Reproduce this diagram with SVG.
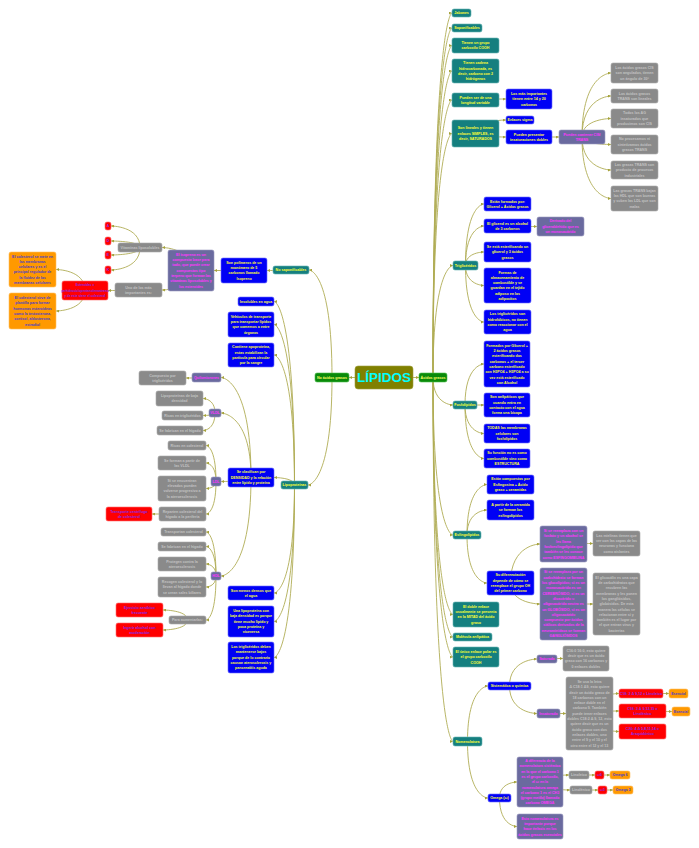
<svg xmlns="http://www.w3.org/2000/svg" width="699" height="848" viewBox="0 0 699 848">
<defs>
<marker id="ar" markerUnits="userSpaceOnUse" markerWidth="3" markerHeight="3" refX="3" refY="1.5" orient="auto"><path d="M0,0 L3,1.5 L0,3 z" fill="#a6a33c"/></marker>
<style>
rect{rx:2px;ry:2px;stroke-width:0.6}
text{font-family:"Liberation Sans",Arial,sans-serif;font-size:3.6px;font-weight:bold;text-anchor:middle}
#connectors path{fill:none;stroke:#b0ad55;stroke-width:0.9;marker-end:url(#ar)}
.root rect{fill:#808000;stroke:#a0a040;rx:3px;ry:3px}
.root text{fill:#00ffff;font-size:13.5px}
.green rect{fill:#0a8a0a;stroke:#4fbf4f}
.green text{fill:#ffff66}
.teal rect{fill:#157f7f;stroke:#66b3b3}
.teal text{fill:#ffff33}
.blue rect{fill:#0000f5;stroke:#6b6bff}
.blue text{fill:#ffff33}
.purple rect{fill:#6a6a9f;stroke:#9a9ac0}
.purple text{fill:#ff33ff}
.gray rect{fill:#8a8a8a;stroke:#a8a8a8}
.gray text{fill:#c2c2c2}
.red rect{fill:#ff0000;stroke:#ff7070}
.red text{fill:#8a2be2}
.orange rect{fill:#ff9900;stroke:#ffc060}
.orange text{fill:#4b3cc8}
</style>
</defs>
<rect x="0" y="0" width="699" height="848" fill="#ffffff" style="rx:0;ry:0"/>
<g id="connectors">
<path d="M355,377.5 L349,377.5"/>
<path d="M413,377.5 L419,377.5"/>
<path d="M433,377.5 C433,13 452,13 452,13"/>
<path d="M433,377.5 C433,28 452,28 452,28"/>
<path d="M433,377.5 C433,45.5 452,45.5 452,45.5"/>
<path d="M433,377.5 C433,71 452,71 452,71"/>
<path d="M433,377.5 C433,100 452,100 452,100"/>
<path d="M433,377.5 C433,133.5 452,133.5 452,133.5"/>
<path d="M433,377.5 C433,265.5 453,265.5 453,265.5"/>
<path d="M433,377.5 C433,405 453,405 453,405"/>
<path d="M433,377.5 C433,535 453,535 453,535"/>
<path d="M433,377.5 C433,614.5 453,614.5 453,614.5"/>
<path d="M433,377.5 C433,637 453,637 453,637"/>
<path d="M433,377.5 C433,657 453,657 453,657"/>
<path d="M433,377.5 C433,741.5 453,741.5 453,741.5"/>
<path d="M475.5,100 C475.5,99 506,99 506,99"/>
<path d="M475.5,133.5 C475.5,120 506,120 506,120"/>
<path d="M475.5,133.5 C475.5,137 506,137 506,137"/>
<path d="M529,137 L559,137"/>
<path d="M582,137 C582,73 611,73 611,73"/>
<path d="M582,137 C582,96 611,96 611,96"/>
<path d="M582,137 C582,118.5 611,118.5 611,118.5"/>
<path d="M582,137 C582,144.5 611,144.5 611,144.5"/>
<path d="M582,137 C582,170 611,170 611,170"/>
<path d="M582,137 C582,198.5 611,198.5 611,198.5"/>
<path d="M465.5,265.5 C465.5,204 484,204 484,204"/>
<path d="M465.5,265.5 C465.5,226 484,226 484,226"/>
<path d="M465.5,265.5 C465.5,252 484,252 484,252"/>
<path d="M465.5,265.5 C465.5,285.5 484,285.5 484,285.5"/>
<path d="M465.5,265.5 C465.5,322 484,322 484,322"/>
<path d="M507.5,226 C507.5,226.5 537,226.5 537,226.5"/>
<path d="M465,405 C465,364 484,364 484,364"/>
<path d="M465,405 L484,405"/>
<path d="M465,405 C465,433.5 484,433.5 484,433.5"/>
<path d="M465,405 C465,458.5 484,458.5 484,458.5"/>
<path d="M467,535 C467,484.5 487,484.5 487,484.5"/>
<path d="M467,535 C467,510 487,510 487,510"/>
<path d="M467,535 C467,583 487,583 487,583"/>
<path d="M510.5,583 C510.5,544 540,544 540,544"/>
<path d="M510.5,583 C510.5,604 540,604 540,604"/>
<path d="M563.5,544 C563.5,543.5 593,543.5 593,543.5"/>
<path d="M563.5,604 L593,604"/>
<path d="M467.5,741.5 C467.5,686 488,686 488,686"/>
<path d="M467.5,741.5 C467.5,798 488,798 488,798"/>
<path d="M509.5,686 C509.5,659 537,659 537,659"/>
<path d="M509.5,686 C509.5,713.5 537,713.5 537,713.5"/>
<path d="M547,659 C547,658.5 563,658.5 563,658.5"/>
<path d="M548.5,713.5 L566,713.5"/>
<path d="M589.5,713.5 C589.5,693.5 619,693.5 619,693.5"/>
<path d="M589.5,713.5 C589.5,711 619,711 619,711"/>
<path d="M589.5,713.5 C589.5,731.5 619,731.5 619,731.5"/>
<path d="M641,693.5 L669,693.5"/>
<path d="M642.5,711 C642.5,711.5 672,711.5 672,711.5"/>
<path d="M499.5,798 C499.5,782 517,782 517,782"/>
<path d="M499.5,798 C499.5,826.5 517,826.5 517,826.5"/>
<path d="M540,782 C540,775 569,775 569,775"/>
<path d="M540,782 C540,790 570,790 570,790"/>
<path d="M579,775 L595,775"/>
<path d="M599.5,775 L610,775"/>
<path d="M581,790 L598,790"/>
<path d="M602.5,790 L613,790"/>
<path d="M332,377.5 C332,270 309,270 309,270"/>
<path d="M332,377.5 C332,485 308,485 308,485"/>
<path d="M291,270 C291,270.5 267,270.5 267,270.5"/>
<path d="M244,270.5 L214,270.5"/>
<path d="M191,270.5 C191,247.5 162,247.5 162,247.5"/>
<path d="M191,270.5 C191,290 162,290 162,290"/>
<path d="M140,247.5 C140,226 111,226 111,226"/>
<path d="M140,247.5 C140,241 111,241 111,241"/>
<path d="M140,247.5 C140,255 111,255 111,255"/>
<path d="M140,247.5 C140,270 111,270 111,270"/>
<path d="M138.5,290 C138.5,290.5 108,290.5 108,290.5"/>
<path d="M85,290.5 C85,269.5 56,269.5 56,269.5"/>
<path d="M85,290.5 C85,311 56,311 56,311"/>
<path d="M294.5,485 C294.5,301.5 274,301.5 274,301.5"/>
<path d="M294.5,485 C294.5,324.5 274,324.5 274,324.5"/>
<path d="M294.5,485 C294.5,355 274,355 274,355"/>
<path d="M294.5,485 C294.5,477.5 274,477.5 274,477.5"/>
<path d="M294.5,485 C294.5,593 274,593 274,593"/>
<path d="M294.5,485 C294.5,621.5 274,621.5 274,621.5"/>
<path d="M294.5,485 C294.5,657.5 274,657.5 274,657.5"/>
<path d="M251,477.5 C251,377.5 221,377.5 221,377.5"/>
<path d="M251,477.5 C251,413 221,413 221,413"/>
<path d="M251,477.5 C251,481.5 221,481.5 221,481.5"/>
<path d="M251,477.5 C251,576 221,576 221,576"/>
<path d="M206.5,377.5 C206.5,378 186,378 186,378"/>
<path d="M215,413 C215,398.5 203,398.5 203,398.5"/>
<path d="M215,413 C215,415.5 203,415.5 203,415.5"/>
<path d="M215,413 C215,430.5 203,430.5 203,430.5"/>
<path d="M216,481.5 C216,445.5 206,445.5 206,445.5"/>
<path d="M216,481.5 C216,463 206,463 206,463"/>
<path d="M216,481.5 C216,488.5 206,488.5 206,488.5"/>
<path d="M216,481.5 C216,514 206,514 206,514"/>
<path d="M182.5,514 L152,514"/>
<path d="M216,576 C216,532 206,532 206,532"/>
<path d="M216,576 C216,546.5 206,546.5 206,546.5"/>
<path d="M216,576 C216,564 206,564 206,564"/>
<path d="M216,576 C216,587 206,587 206,587"/>
<path d="M216,576 C216,620 206,620 206,620"/>
<path d="M187.5,620 C187.5,610 163,610 163,610"/>
<path d="M187.5,620 C187.5,630 163,630 163,630"/>
</g>

<g id="n-lipidos" class="root"><rect x="355" y="366" width="58" height="23"/><text><tspan x="384" y="382.4">LÍPIDOS</tspan></text></g>
<g id="n-no-acidos" class="green"><rect x="315" y="373" width="34" height="9"/><text><tspan x="332" y="378.75">No ácidos grasos</tspan></text></g>
<g id="n-acidos" class="green"><rect x="419" y="373" width="28" height="9"/><text><tspan x="433" y="378.75">Ácidos grasos</tspan></text></g>

<g id="n-jabones" class="teal"><rect x="452" y="9" width="19" height="8"/><text><tspan x="461.5" y="14.25">Jabones</tspan></text></g>
<g id="n-saponificables" class="teal"><rect x="452" y="24" width="30" height="8"/><text><tspan x="467" y="29.25">Saponificables</tspan></text></g>
<g id="n-carboxilo" class="teal"><rect x="452" y="38" width="47" height="15"/><text><tspan x="475.5" y="44.1">Tienen un grupo</tspan><tspan x="475.5" y="49.4">carboxilo COOH</tspan></text></g>
<g id="n-cadena" class="teal"><rect x="452" y="59" width="47" height="24"/><text><tspan x="475.5" y="64.3">Tienen cadena</tspan><tspan x="475.5" y="69.6">hidrocarbonada, es</tspan><tspan x="475.5" y="74.9">decir, carbono con 2</tspan><tspan x="475.5" y="80.2">hidrógenos</tspan></text></g>
<g id="n-longitud" class="teal"><rect x="452" y="93" width="47" height="14"/><text><tspan x="475.5" y="98.6">Pueden ser de una</tspan><tspan x="475.5" y="103.9">longitud variable</tspan></text></g>
<g id="n-importantes" class="blue"><rect x="506" y="89" width="46" height="20"/><text><tspan x="529" y="94.95">Los más importantes</tspan><tspan x="529" y="100.25">tienen entre 14 y 20</tspan><tspan x="529" y="105.55">carbonos</tspan></text></g>
<g id="n-lineales" class="teal"><rect x="452" y="120" width="47" height="27"/><text><tspan x="475.5" y="129.45">Son lineales y tienen</tspan><tspan x="475.5" y="134.75">enlaces SIMPLES, es</tspan><tspan x="475.5" y="140.05">decir, SATURADOS</tspan></text></g>
<g id="n-sigma" class="blue"><rect x="506" y="116" width="28" height="8"/><text><tspan x="520" y="121.25">Enlaces sigma</tspan></text></g>
<g id="n-insaturaciones" class="blue"><rect x="506" y="130" width="46" height="14"/><text><tspan x="529" y="135.6">Pueden presentar</tspan><tspan x="529" y="140.9">insaturaciones dobles</tspan></text></g>
<g id="n-cistrans" class="purple"><rect x="559" y="130" width="46" height="14"/><text><tspan x="582" y="135.6">Pueden contener CIS/</tspan><tspan x="582" y="140.9">TRANS</tspan></text></g>
<g id="n-cis1" class="gray"><rect x="611" y="63" width="47" height="20"/><text><tspan x="634.5" y="68.95">Los ácidos grasos CIS</tspan><tspan x="634.5" y="74.25">son angulados, tienen</tspan><tspan x="634.5" y="79.55">un ángulo de 30°</tspan></text></g>
<g id="n-cis2" class="gray"><rect x="611" y="89" width="47" height="14"/><text><tspan x="634.5" y="94.6">Los ácidos grasos</tspan><tspan x="634.5" y="99.9">TRANS son lineales</tspan></text></g>
<g id="n-cis3" class="gray"><rect x="611" y="109" width="47" height="19"/><text><tspan x="634.5" y="114.45">Todos los AG</tspan><tspan x="634.5" y="119.75">insaturados que</tspan><tspan x="634.5" y="125.05">producimos son CIS</tspan></text></g>
<g id="n-cis4" class="gray"><rect x="611" y="135" width="47" height="19"/><text><tspan x="634.5" y="140.45">No procesamos ni</tspan><tspan x="634.5" y="145.75">sintetizamos ácidos</tspan><tspan x="634.5" y="151.05">grasos TRANS</tspan></text></g>
<g id="n-cis5" class="gray"><rect x="611" y="161" width="47" height="18"/><text><tspan x="634.5" y="165.95">Las grasas TRANS son</tspan><tspan x="634.5" y="171.25">producto de procesos</tspan><tspan x="634.5" y="176.55">industriales</tspan></text></g>
<g id="n-cis6" class="gray"><rect x="611" y="186" width="47" height="25"/><text><tspan x="634.5" y="191.8">Las grasas TRANS bajan</tspan><tspan x="634.5" y="197.1">las HDL que son buenas</tspan><tspan x="634.5" y="202.4">y suben las LDL que son</tspan><tspan x="634.5" y="207.7">malas</tspan></text></g>

<g id="n-trigliceridos" class="teal"><rect x="453" y="261" width="25" height="9"/><text><tspan x="465.5" y="266.75">Triglicéridos</tspan></text></g>
<g id="n-tg1" class="blue"><rect x="484" y="197" width="47" height="14"/><text><tspan x="507.5" y="202.6">Están formados por:</tspan><tspan x="507.5" y="207.9">Glicerol + Ácidos grasos</tspan></text></g>
<g id="n-tg2" class="blue"><rect x="484" y="219" width="47" height="14"/><text><tspan x="507.5" y="224.6">El glicerol es un alcohol</tspan><tspan x="507.5" y="229.9">de 3 carbonos</tspan></text></g>
<g id="n-tg2a" class="purple"><rect x="537" y="217" width="47" height="19"/><text><tspan x="560.5" y="222.45">Derivado del</tspan><tspan x="560.5" y="227.75">gliceraldehído que es</tspan><tspan x="560.5" y="233.05">un monosacárido</tspan></text></g>
<g id="n-tg3" class="blue"><rect x="484" y="242" width="47" height="20"/><text><tspan x="507.5" y="247.95">Se está esterificando un</tspan><tspan x="507.5" y="253.25">glicerol y 3 ácidos</tspan><tspan x="507.5" y="258.55">grasos</tspan></text></g>
<g id="n-tg4" class="blue"><rect x="484" y="268" width="47" height="35"/><text><tspan x="507.5" y="273.5">Formas de</tspan><tspan x="507.5" y="278.8">almacenamiento de</tspan><tspan x="507.5" y="284.1">combustible y se</tspan><tspan x="507.5" y="289.4">guardan en el tejido</tspan><tspan x="507.5" y="294.7">adiposo en los</tspan><tspan x="507.5" y="300">adipocitos</tspan></text></g>
<g id="n-tg5" class="blue"><rect x="484" y="310" width="47" height="24"/><text><tspan x="507.5" y="315.3">Los triglicéridos son</tspan><tspan x="507.5" y="320.6">hidrofóbicos, no tienen</tspan><tspan x="507.5" y="325.9">como reaccionar con el</tspan><tspan x="507.5" y="331.2">agua</tspan></text></g>

<g id="n-fosfolipidos" class="teal"><rect x="453" y="401" width="24" height="8"/><text><tspan x="465" y="406.25">Fosfolípidos</tspan></text></g>
<g id="n-fl1" class="blue"><rect x="484" y="341" width="46" height="46"/><text><tspan x="507" y="346.7">Formados por Glicerol +</tspan><tspan x="507" y="352">2 ácidos grasos</tspan><tspan x="507" y="357.3">esterificando dos</tspan><tspan x="507" y="362.6">carbonos + el tercer</tspan><tspan x="507" y="367.9">carbono esterificado</tspan><tspan x="507" y="373.2">con H3PO4 + H3PO4 a su</tspan><tspan x="507" y="378.5">vez está esterificado</tspan><tspan x="507" y="383.8">con Alcohol</tspan></text></g>
<g id="n-fl2" class="blue"><rect x="484" y="393" width="46" height="24"/><text><tspan x="507" y="398.3">Son anfipáticos que</tspan><tspan x="507" y="403.6">cuando entra en</tspan><tspan x="507" y="408.9">contacto con el agua</tspan><tspan x="507" y="414.2">forma una bicapa</tspan></text></g>
<g id="n-fl3" class="blue"><rect x="484" y="424" width="46" height="19"/><text><tspan x="507" y="429.45">TODAS las membranas</tspan><tspan x="507" y="434.75">celulares son</tspan><tspan x="507" y="440.05">fosfolípidos</tspan></text></g>
<g id="n-fl4" class="blue"><rect x="484" y="449" width="46" height="19"/><text><tspan x="507" y="454.45">Su función no es como</tspan><tspan x="507" y="459.75">combustible sino como</tspan><tspan x="507" y="465.05">ESTRUCTURA</tspan></text></g>

<g id="n-esfingolipidos" class="teal"><rect x="453" y="531" width="28" height="8"/><text><tspan x="467" y="536.25">Esfingolípidos</tspan></text></g>
<g id="n-es1" class="blue"><rect x="487" y="475" width="47" height="19"/><text><tspan x="510.5" y="480.45">Están compuestos por</tspan><tspan x="510.5" y="485.75">Esfingosina + Ácido</tspan><tspan x="510.5" y="491.05">graso + ceramidas</tspan></text></g>
<g id="n-es2" class="blue"><rect x="487" y="500" width="47" height="20"/><text><tspan x="510.5" y="505.95">A partir de la ceramida</tspan><tspan x="510.5" y="511.25">se forman los</tspan><tspan x="510.5" y="516.55">esfingolípidos</tspan></text></g>
<g id="n-es3" class="blue"><rect x="487" y="571" width="47" height="24"/><text><tspan x="510.5" y="576.3">Su diferenciación</tspan><tspan x="510.5" y="581.6">depende de cómo se</tspan><tspan x="510.5" y="586.9">reemplace el grupo OH</tspan><tspan x="510.5" y="592.2">del primer carbono</tspan></text></g>
<g id="n-es3a" class="purple"><rect x="540" y="526" width="47" height="36"/><text><tspan x="563.5" y="532">Si se reemplaza con un</tspan><tspan x="563.5" y="537.3">fosfato y un alcohol se</tspan><tspan x="563.5" y="542.6">les llama</tspan><tspan x="563.5" y="547.9">fosfoesfingolípido que</tspan><tspan x="563.5" y="553.2">también se les conoce</tspan><tspan x="563.5" y="558.5">como ESFINGOMIELINA</tspan></text></g>
<g id="n-es3a1" class="gray"><rect x="593" y="531" width="47" height="25"/><text><tspan x="616.5" y="536.8">Las mielinas tienen que</tspan><tspan x="616.5" y="542.1">ver con las capas de las</tspan><tspan x="616.5" y="547.4">neuronas y funciona</tspan><tspan x="616.5" y="552.7">como aislantes</tspan></text></g>
<g id="n-es3b" class="purple"><rect x="540" y="568" width="47" height="72"/><text><tspan x="563.5" y="573.45">Si se reemplaza por un</tspan><tspan x="563.5" y="578.75">carbohidrato se forman</tspan><tspan x="563.5" y="584.05">los glucolípidos; si es un</tspan><tspan x="563.5" y="589.35">monosacárido es un</tspan><tspan x="563.5" y="594.65">CEREBRÓSIDO, si es un</tspan><tspan x="563.5" y="599.95">disacárido u</tspan><tspan x="563.5" y="605.25">oligosacárido neutro es</tspan><tspan x="563.5" y="610.55">un GLOBÓSIDO, si es un</tspan><tspan x="563.5" y="615.85">oligosacárido</tspan><tspan x="563.5" y="621.15">compuesto por ácidos</tspan><tspan x="563.5" y="626.45">siálicos derivados de la</tspan><tspan x="563.5" y="631.75">neuraminidasa se forman</tspan><tspan x="563.5" y="637.05">GANGLIÓSIDOS</tspan></text></g>
<g id="n-es3b1" class="gray"><rect x="593" y="573" width="47" height="62"/><text><tspan x="616.5" y="578.75">El glicocálix es una capa</tspan><tspan x="616.5" y="584.05">de carbohidratos que</tspan><tspan x="616.5" y="589.35">recubren las</tspan><tspan x="616.5" y="594.65">membranas y les ponen</tspan><tspan x="616.5" y="599.95">los gangliósidos,</tspan><tspan x="616.5" y="605.25">globósidos. De esta</tspan><tspan x="616.5" y="610.55">manera las células se</tspan><tspan x="616.5" y="615.85">relacionan entre sí y</tspan><tspan x="616.5" y="621.15">también es el lugar por</tspan><tspan x="616.5" y="626.45">el que entran virus y</tspan><tspan x="616.5" y="631.75">bacterias</tspan></text></g>

<g id="n-doble" class="teal"><rect x="453" y="602" width="46" height="25"/><text><tspan x="476" y="607.8">El doble enlace</tspan><tspan x="476" y="613.1">usualmente se presenta</tspan><tspan x="476" y="618.4">en la MITAD del ácido</tspan><tspan x="476" y="623.7">graso</tspan></text></g>
<g id="n-anfipatica" class="teal"><rect x="453" y="633" width="39" height="8"/><text><tspan x="472.5" y="638.25">Molécula anfipática</tspan></text></g>
<g id="n-polar" class="teal"><rect x="453" y="647" width="46" height="20"/><text><tspan x="476" y="652.95">El único enlace polar es</tspan><tspan x="476" y="658.25">el grupo carboxilo</tspan><tspan x="476" y="663.55">COOH</tspan></text></g>

<g id="n-nomenclatura" class="teal"><rect x="453" y="737" width="29" height="9"/><text><tspan x="467.5" y="742.75">Nomenclatura</tspan></text></g>
<g id="n-sistematica" class="blue"><rect x="488" y="682" width="43" height="8"/><text><tspan x="509.5" y="687.25">Sistemática o química</tspan></text></g>
<g id="n-saturado" class="purple"><rect x="537" y="655" width="20" height="8"/><text><tspan x="547" y="660.25">Saturado</tspan></text></g>
<g id="n-saturado1" class="gray"><rect x="563" y="646" width="46" height="25"/><text><tspan x="586" y="651.8">C16:0 16:0, esto quiere</tspan><tspan x="586" y="657.1">decir que es un ácido</tspan><tspan x="586" y="662.4">graso con 16 carbonos y</tspan><tspan x="586" y="667.7">0 enlaces dobles</tspan></text></g>
<g id="n-insaturado" class="purple"><rect x="537" y="709" width="23" height="9"/><text><tspan x="548.5" y="714.75">Insaturado</tspan></text></g>
<g id="n-insaturado1" class="gray"><rect x="566" y="677" width="47" height="73"/><text><tspan x="589.5" y="682.95">Se usa la letra</tspan><tspan x="589.5" y="688.25">Δ C18:1 Δ9, esto quiere</tspan><tspan x="589.5" y="693.55">decir un ácido graso de</tspan><tspan x="589.5" y="698.85">18 carbonos con un</tspan><tspan x="589.5" y="704.15">enlace doble en el</tspan><tspan x="589.5" y="709.45">carbono 9. También</tspan><tspan x="589.5" y="714.75">puede tener enlaces</tspan><tspan x="589.5" y="720.05">dobles C18:2 Δ 9, 12, esto</tspan><tspan x="589.5" y="725.35">quiere decir que es un</tspan><tspan x="589.5" y="730.65">ácido graso con dos</tspan><tspan x="589.5" y="735.95">enlaces dobles, uno</tspan><tspan x="589.5" y="741.25">entre el 9 y el 10 y el</tspan><tspan x="589.5" y="746.55">otro entre el 12 y el 13</tspan></text></g>
<g id="n-linoleico" class="red"><rect x="619" y="689" width="44" height="9"/><text><tspan x="641" y="694.75">C18: 2 Δ 9,12 = Linoleico</tspan></text></g>
<g id="n-esencial1" class="orange"><rect x="669" y="689" width="19" height="9"/><text><tspan x="678.5" y="694.75">Esencial</tspan></text></g>
<g id="n-linolenico" class="red"><rect x="619" y="704" width="47" height="14"/><text><tspan x="642.5" y="709.6">C18: 3 Δ 9,12,15 =</tspan><tspan x="642.5" y="714.9">Linolénico</tspan></text></g>
<g id="n-esencial2" class="orange"><rect x="672" y="707" width="18" height="9"/><text><tspan x="681" y="712.75">Esencial</tspan></text></g>
<g id="n-araquidonico" class="red"><rect x="619" y="724" width="47" height="15"/><text><tspan x="642.5" y="730.1">C20: 4 Δ 5,8,11,14 =</tspan><tspan x="642.5" y="735.4">Araquidónico</tspan></text></g>
<g id="n-omega" class="blue"><rect x="488" y="794" width="23" height="8"/><text><tspan x="499.5" y="799.25">Omega (ω)</tspan></text></g>
<g id="n-omega1" class="purple"><rect x="517" y="757" width="46" height="50"/><text><tspan x="540" y="762.05">A diferencia de la</tspan><tspan x="540" y="767.35">nomenclatura sistémica</tspan><tspan x="540" y="772.65">en la que el carbono 1</tspan><tspan x="540" y="777.95">es el grupo carboxilo,</tspan><tspan x="540" y="783.25">el ω en la</tspan><tspan x="540" y="788.55">nomenclatura omega</tspan><tspan x="540" y="793.85">el carbono 1 es el CH3</tspan><tspan x="540" y="799.15">(grupo metilo) llamado</tspan><tspan x="540" y="804.45">carbono OMEGA</tspan></text></g>
<g id="n-om-linoleico" class="gray"><rect x="569" y="771" width="20" height="8"/><text><tspan x="579" y="776.25">Linoleico</tspan></text></g>
<g id="n-w6" class="red"><rect x="595" y="771" width="9" height="8"/><text><tspan x="599.5" y="776.25">ω6</tspan></text></g>
<g id="n-omega6" class="orange"><rect x="610" y="771" width="20" height="8"/><text><tspan x="620" y="776.25">Omega 6</tspan></text></g>
<g id="n-om-linolenico" class="gray"><rect x="570" y="786" width="22" height="8"/><text><tspan x="581" y="791.25">Linolénico</tspan></text></g>
<g id="n-w3" class="red"><rect x="598" y="786" width="9" height="8"/><text><tspan x="602.5" y="791.25">ω3</tspan></text></g>
<g id="n-omega3" class="orange"><rect x="613" y="786" width="20" height="8"/><text><tspan x="623" y="791.25">Omega 3</tspan></text></g>
<g id="n-omega2" class="purple"><rect x="517" y="814" width="46" height="25"/><text><tspan x="540" y="819.8">Esta nomenclatura es</tspan><tspan x="540" y="825.1">importante porque</tspan><tspan x="540" y="830.4">hace énfasis en los</tspan><tspan x="540" y="835.7">ácidos grasos esenciales</tspan></text></g>

<g id="n-nosap" class="teal"><rect x="273" y="266" width="36" height="8"/><text><tspan x="291" y="271.25">No saponificables</tspan></text></g>
<g id="n-polimeros" class="blue"><rect x="221" y="258" width="46" height="25"/><text><tspan x="244" y="263.8">Son polímeros de un</tspan><tspan x="244" y="269.1">monómero de 5</tspan><tspan x="244" y="274.4">carbonos llamado</tspan><tspan x="244" y="279.7">Isopreno</tspan></text></g>
<g id="n-isopreno" class="purple"><rect x="168" y="250" width="46" height="41"/><text><tspan x="191" y="255.85">El isopreno es un</tspan><tspan x="191" y="261.15">compuesto base para</tspan><tspan x="191" y="266.45">todo, que puede crear</tspan><tspan x="191" y="271.75">compuestos tipo</tspan><tspan x="191" y="277.05">terpeno que forman las</tspan><tspan x="191" y="282.35">vitaminas liposolubles y</tspan><tspan x="191" y="287.65">los esteroides</tspan></text></g>
<g id="n-vitaminas" class="gray"><rect x="118" y="243" width="44" height="9"/><text><tspan x="140" y="248.75">Vitaminas liposolubles</tspan></text></g>
<g id="n-vit-a" class="red"><rect x="105" y="222" width="6" height="8"/><text><tspan x="108" y="227.25">A</tspan></text></g>
<g id="n-vit-d" class="red"><rect x="105" y="237" width="6" height="8"/><text><tspan x="108" y="242.25">D</tspan></text></g>
<g id="n-vit-e" class="red"><rect x="105" y="251" width="6" height="8"/><text><tspan x="108" y="256.25">E</tspan></text></g>
<g id="n-vit-k" class="red"><rect x="105" y="266" width="6" height="8"/><text><tspan x="108" y="271.25">K</tspan></text></g>
<g id="n-uno" class="gray"><rect x="115" y="283" width="47" height="14"/><text><tspan x="138.5" y="288.6">Uno de los más</tspan><tspan x="138.5" y="293.9">importantes es:</tspan></text></g>
<g id="n-esteroides" class="red"><rect x="62" y="281" width="46" height="19"/><text style="font-size:3.1px"><tspan x="85" y="286.45">Esteroides =</tspan><tspan x="85" y="291.75">perhidrociclopentanofenantreno</tspan><tspan x="85" y="297.05">y de este viene el colesterol</tspan></text></g>
<g id="n-col1" class="orange"><rect x="9" y="252" width="47" height="35"/><text><tspan x="32.5" y="257.5">El colesterol se mete en</tspan><tspan x="32.5" y="262.8">las membranas</tspan><tspan x="32.5" y="268.1">celulares y es el</tspan><tspan x="32.5" y="273.4">principal regulador de</tspan><tspan x="32.5" y="278.7">la fluidez de las</tspan><tspan x="32.5" y="284">membranas celulares</tspan></text></g>
<g id="n-col2" class="orange"><rect x="9" y="293" width="47" height="36"/><text><tspan x="32.5" y="299">El colesterol sirve de</tspan><tspan x="32.5" y="304.3">plantilla para formar</tspan><tspan x="32.5" y="309.6">hormonas esteroideas</tspan><tspan x="32.5" y="314.9">como la testosterona,</tspan><tspan x="32.5" y="320.2">cortisol, aldosterona,</tspan><tspan x="32.5" y="325.5">estradiol</tspan></text></g>

<g id="n-lipoproteinas" class="teal"><rect x="281" y="481" width="27" height="8"/><text><tspan x="294.5" y="486.25">Lipoproteínas</tspan></text></g>
<g id="n-insolubles" class="blue"><rect x="238" y="297" width="36" height="9"/><text><tspan x="256" y="302.75">Insolubles en agua</tspan></text></g>
<g id="n-vehiculos" class="blue"><rect x="228" y="312" width="46" height="25"/><text><tspan x="251" y="317.8">Vehículos de transporte</tspan><tspan x="251" y="323.1">para transportar lípidos</tspan><tspan x="251" y="328.4">que comemos a entre</tspan><tspan x="251" y="333.7">órganos</tspan></text></g>
<g id="n-apoproteina" class="blue"><rect x="228" y="343" width="46" height="24"/><text><tspan x="251" y="348.3">Contiene apoproteína,</tspan><tspan x="251" y="353.6">estas estabilizan la</tspan><tspan x="251" y="358.9">partícula para circular</tspan><tspan x="251" y="364.2">por la sangre</tspan></text></g>
<g id="n-clasifican" class="blue"><rect x="228" y="468" width="46" height="19"/><text><tspan x="251" y="473.45">Se clasifican por</tspan><tspan x="251" y="478.75">DENSIDAD y la relación</tspan><tspan x="251" y="484.05">entre lípido y proteína</tspan></text></g>
<g id="n-quilo" class="purple"><rect x="192" y="373" width="29" height="9"/><text><tspan x="206.5" y="378.75">Quilomicrones</tspan></text></g>
<g id="n-quilo1" class="gray"><rect x="139" y="371" width="47" height="14"/><text><tspan x="162.5" y="376.6">Compuesto por</tspan><tspan x="162.5" y="381.9">triglicéridos</tspan></text></g>
<g id="n-vldl" class="purple"><rect x="209" y="409" width="12" height="8"/><text><tspan x="215" y="414.25">VLDL</tspan></text></g>
<g id="n-vldl1" class="gray"><rect x="156" y="391" width="47" height="15"/><text><tspan x="179.5" y="397.1">Lipoproteínas de baja</tspan><tspan x="179.5" y="402.4">densidad</tspan></text></g>
<g id="n-vldl2" class="gray"><rect x="162" y="411" width="41" height="9"/><text><tspan x="182.5" y="416.75">Ricas en triglicéridos</tspan></text></g>
<g id="n-vldl3" class="gray"><rect x="157" y="426" width="46" height="9"/><text><tspan x="180" y="431.75">Se fabrican en el hígado</tspan></text></g>
<g id="n-ldl" class="purple"><rect x="211" y="477" width="10" height="9"/><text><tspan x="216" y="482.75">LDL</tspan></text></g>
<g id="n-ldl1" class="gray"><rect x="168" y="441" width="38" height="9"/><text><tspan x="187" y="446.75">Ricas en colesterol</tspan></text></g>
<g id="n-ldl2" class="gray"><rect x="158" y="456" width="48" height="14"/><text><tspan x="182" y="461.6">Se forman a partir de</tspan><tspan x="182" y="466.9">las VLDL</tspan></text></g>
<g id="n-ldl3" class="gray"><rect x="158" y="476" width="48" height="25"/><text><tspan x="182" y="481.8">Si se encuentran</tspan><tspan x="182" y="487.1">elevados pueden</tspan><tspan x="182" y="492.4">volverse progresivo a</tspan><tspan x="182" y="497.7">la ateroesclerosis</tspan></text></g>
<g id="n-ldl4" class="gray"><rect x="159" y="507" width="47" height="14"/><text><tspan x="182.5" y="512.6">Reparten colesterol del</tspan><tspan x="182.5" y="517.9">hígado a la periferia</tspan></text></g>
<g id="n-centrifugo" class="red"><rect x="106" y="507" width="46" height="14"/><text><tspan x="129" y="512.6">Transporte centrífugo</tspan><tspan x="129" y="517.9">de colesterol</tspan></text></g>
<g id="n-hdl" class="purple"><rect x="211" y="572" width="10" height="8"/><text><tspan x="216" y="577.25">HDL</tspan></text></g>
<g id="n-hdl1" class="gray"><rect x="161" y="528" width="45" height="8"/><text><tspan x="183.5" y="533.25">Transportan colesterol</tspan></text></g>
<g id="n-hdl2" class="gray"><rect x="158" y="542" width="48" height="9"/><text><tspan x="182" y="547.75">Se fabrican en el hígado</tspan></text></g>
<g id="n-hdl3" class="gray"><rect x="158" y="557" width="48" height="14"/><text><tspan x="182" y="562.6">Protegen contra la</tspan><tspan x="182" y="567.9">ateroesclerosis</tspan></text></g>
<g id="n-hdl4" class="gray"><rect x="158" y="577" width="48" height="20"/><text><tspan x="182" y="582.95">Recogen colesterol y lo</tspan><tspan x="182" y="588.25">llevan al hígado donde</tspan><tspan x="182" y="593.55">se crean sales biliares</tspan></text></g>
<g id="n-hdl5" class="gray"><rect x="169" y="616" width="37" height="8"/><text><tspan x="187.5" y="621.25">Para aumentarlas:</tspan></text></g>
<g id="n-ejercicio" class="red"><rect x="116" y="603" width="47" height="14"/><text><tspan x="139.5" y="608.6">Ejercicio aeróbico</tspan><tspan x="139.5" y="613.9">frecuente</tspan></text></g>
<g id="n-alcohol" class="red"><rect x="116" y="623" width="47" height="14"/><text><tspan x="139.5" y="628.6">Ingerir alcohol con</tspan><tspan x="139.5" y="633.9">moderación</tspan></text></g>
<g id="n-menos-densos" class="blue"><rect x="228" y="586" width="46" height="14"/><text><tspan x="251" y="591.6">Son menos densos que</tspan><tspan x="251" y="596.9">el agua</tspan></text></g>
<g id="n-baja-densidad" class="blue"><rect x="228" y="606" width="46" height="31"/><text><tspan x="251" y="612.15">Una lipoproteína con</tspan><tspan x="251" y="617.45">baja densidad es porque</tspan><tspan x="251" y="622.75">tiene mucho lípido y</tspan><tspan x="251" y="628.05">poca proteína y</tspan><tspan x="251" y="633.35">viceversa</tspan></text></g>
<g id="n-tg-bajos" class="blue"><rect x="228" y="642" width="46" height="31"/><text><tspan x="251" y="648.15">Los triglicéridos deben</tspan><tspan x="251" y="653.45">mantenerse bajos</tspan><tspan x="251" y="658.75">porque de lo contrario</tspan><tspan x="251" y="664.05">causan aterosclerosis y</tspan><tspan x="251" y="669.35">pancreatitis aguda</tspan></text></g>
</svg>
